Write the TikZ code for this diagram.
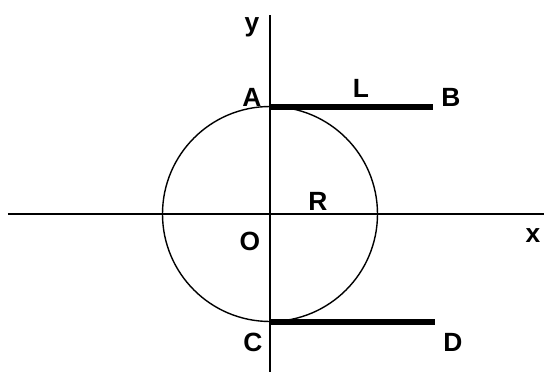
\documentclass[tikz,border=0pt]{standalone}
\usepackage{fontspec}
\setsansfont{Liberation Sans}

\begin{document}
\begin{tikzpicture}[
        line width=0.8pt,
        bar/.style={line width=3.3pt},
        every node/.style={font=\sffamily\bfseries\fontsize{15}{18}\selectfont, inner sep=0pt}
    ]

        \useasboundingbox (-5.4,-3.16) rectangle (5.48,4.28);

        \coordinate (O) at (0,0);
        \coordinate (xl) at (-5.24,0);
        \coordinate (xr) at (5.48,0);
        \coordinate (yt) at (0,3.98);
        \coordinate (yb) at (0,-3.16);
        \coordinate (A) at (0,2.14);
        \coordinate (B) at (3.26,2.14);
        \coordinate (C) at (0,-2.16);
        \coordinate (D) at (3.30,-2.16);

        % Ejes
        \draw (xl) -- (xr);
        \draw (yt) -- (yb);

        \draw (O) circle (2.15);

        \draw[bar] (A) -- (B);
        \draw[bar] (C) -- (D);

        \node (ly) at (-0.36,3.74) {y};
        \node (lx) at (5.26,-0.44) {x};
        \node (lA) at (-0.36,2.34) {A};
        \node (lL) at (1.82,2.52) {L};
        \node (lB) at (3.62,2.34) {B};
        \node (lR) at (0.96,0.26) {R};
        \node (lO) at (-0.40,-0.54) {O};
        \node (lC) at (-0.34,-2.56) {C};
        \node (lD) at (3.66,-2.56) {D};

    \end{tikzpicture}
\end{document}
